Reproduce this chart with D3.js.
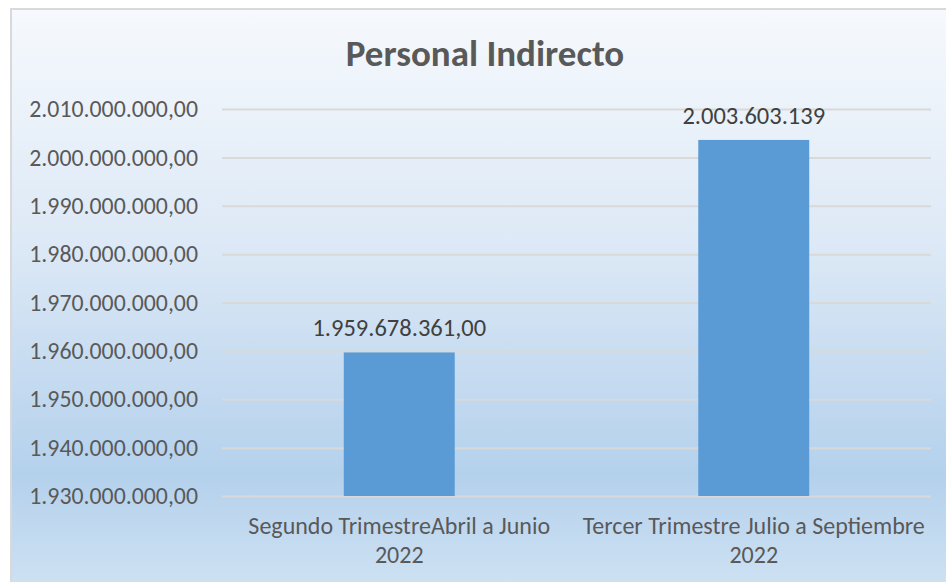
<!DOCTYPE html>
<html>
<head>
<meta charset="utf-8">
<script src="https://cdn.jsdelivr.net/npm/d3@7"></script>
<style>
  body { margin: 0; background: #fff; }
  text { font-family: Carlito, "Liberation Sans", sans-serif; }
</style>
</head>
<body>
<svg id="chart" width="946" height="582"></svg>
<script>
const title = "Personal Indirecto";
const categories = [
  ["Segundo TrimestreAbril a Junio", "2022"],
  ["Tercer Trimestre Julio a Septiembre", "2022"]
];
const values = [1959678361, 2003603139];
const valueLabels = ["1.959.678.361,00", "2.003.603.139"];
const yTicks = [1930000000, 1940000000, 1950000000, 1960000000, 1970000000,
  1980000000, 1990000000, 2000000000, 2010000000];

const svg = d3.select("#chart");
const margin = { top: 109, right: 15, bottom: 86, left: 222 };
const width = 946, height = 582;

const defs = svg.append("defs");
const grad = defs.append("linearGradient")
  .attr("id", "bg").attr("x1", 0).attr("y1", 0).attr("x2", 0).attr("y2", 1);
grad.append("stop").attr("offset", "0%").attr("stop-color", "#f6f9fd");
grad.append("stop").attr("offset", "40%").attr("stop-color", "#dde9f6");
grad.append("stop").attr("offset", "80%").attr("stop-color", "#b4d1ec");
grad.append("stop").attr("offset", "100%").attr("stop-color", "#cfe2f3");

svg.append("rect")
  .attr("x", 11).attr("y", 9)
  .attr("width", width).attr("height", height)
  .attr("fill", "url(#bg)")
  .attr("stroke", "#d9d9d9")
  .attr("stroke-width", 2);

const x = d3.scaleBand()
  .domain(categories.map(d => d[0]))
  .range([margin.left, width - margin.right])
  .paddingInner(0.687)
  .paddingOuter(0.3435);

const y = d3.scaleLinear()
  .domain([1930000000, 2010000000])
  .range([496, 109]);

const fmt = v => d3.format(",.2f")(v).replace(/,/g, "#").replace(".", ",").replace(/#/g, ".");

// gridlines
svg.append("g")
  .attr("transform", `translate(${margin.left},0)`)
  .call(d3.axisLeft(y).tickValues(yTicks).tickSize(-(width - margin.right - margin.left)).tickFormat(""))
  .call(g => g.select(".domain").remove())
  .call(g => g.selectAll("line").attr("stroke", "#d9d9d9").attr("stroke-width", 2));

// y labels
svg.append("g")
  .attr("transform", `translate(198,0)`)
  .call(d3.axisLeft(y).tickValues(yTicks).tickSize(0).tickPadding(0).tickFormat(fmt))
  .call(g => g.select(".domain").remove())
  .call(g => g.selectAll("text")
    .attr("fill", "#595959")
    .style("font-size", "23.8px")
    .style("font-family", null));

// bars
svg.selectAll(".bar")
  .data(values)
  .enter().append("rect")
  .attr("class", "bar")
  .attr("x", (d, i) => x(categories[i][0]))
  .attr("width", x.bandwidth())
  .attr("y", d => y(d))
  .attr("height", d => y(1930000000) - y(d))
  .attr("fill", "#5b9bd5");

// value labels
svg.selectAll(".vlabel")
  .data(values)
  .enter().append("text")
  .attr("class", "vlabel")
  .attr("x", (d, i) => x(categories[i][0]) + x.bandwidth() / 2)
  .attr("y", d => y(d) - 16)
  .attr("text-anchor", "middle")
  .attr("fill", "#404040")
  .style("font-size", "24.5px")
  .text((d, i) => valueLabels[i]);

// category labels
const cat = svg.selectAll(".cat")
  .data(categories)
  .enter().append("text")
  .attr("class", "cat")
  .attr("text-anchor", "middle")
  .attr("fill", "#595959")
  .style("font-size", "24px");
cat.selectAll("tspan")
  .data(d => d.map(t => ({ t, c: d[0] })))
  .enter().append("tspan")
  .attr("x", d => x(d.c) + x.bandwidth() / 2)
  .attr("y", (d, i) => 534 + i * 29)
  .text(d => d.t);

// title
svg.append("text")
  .attr("x", 485)
  .attr("y", 66)
  .attr("text-anchor", "middle")
  .attr("fill", "#595959")
  .style("font-size", "37px")
  .style("font-weight", "bold")
  .text(title);
</script>
</body>
</html>
